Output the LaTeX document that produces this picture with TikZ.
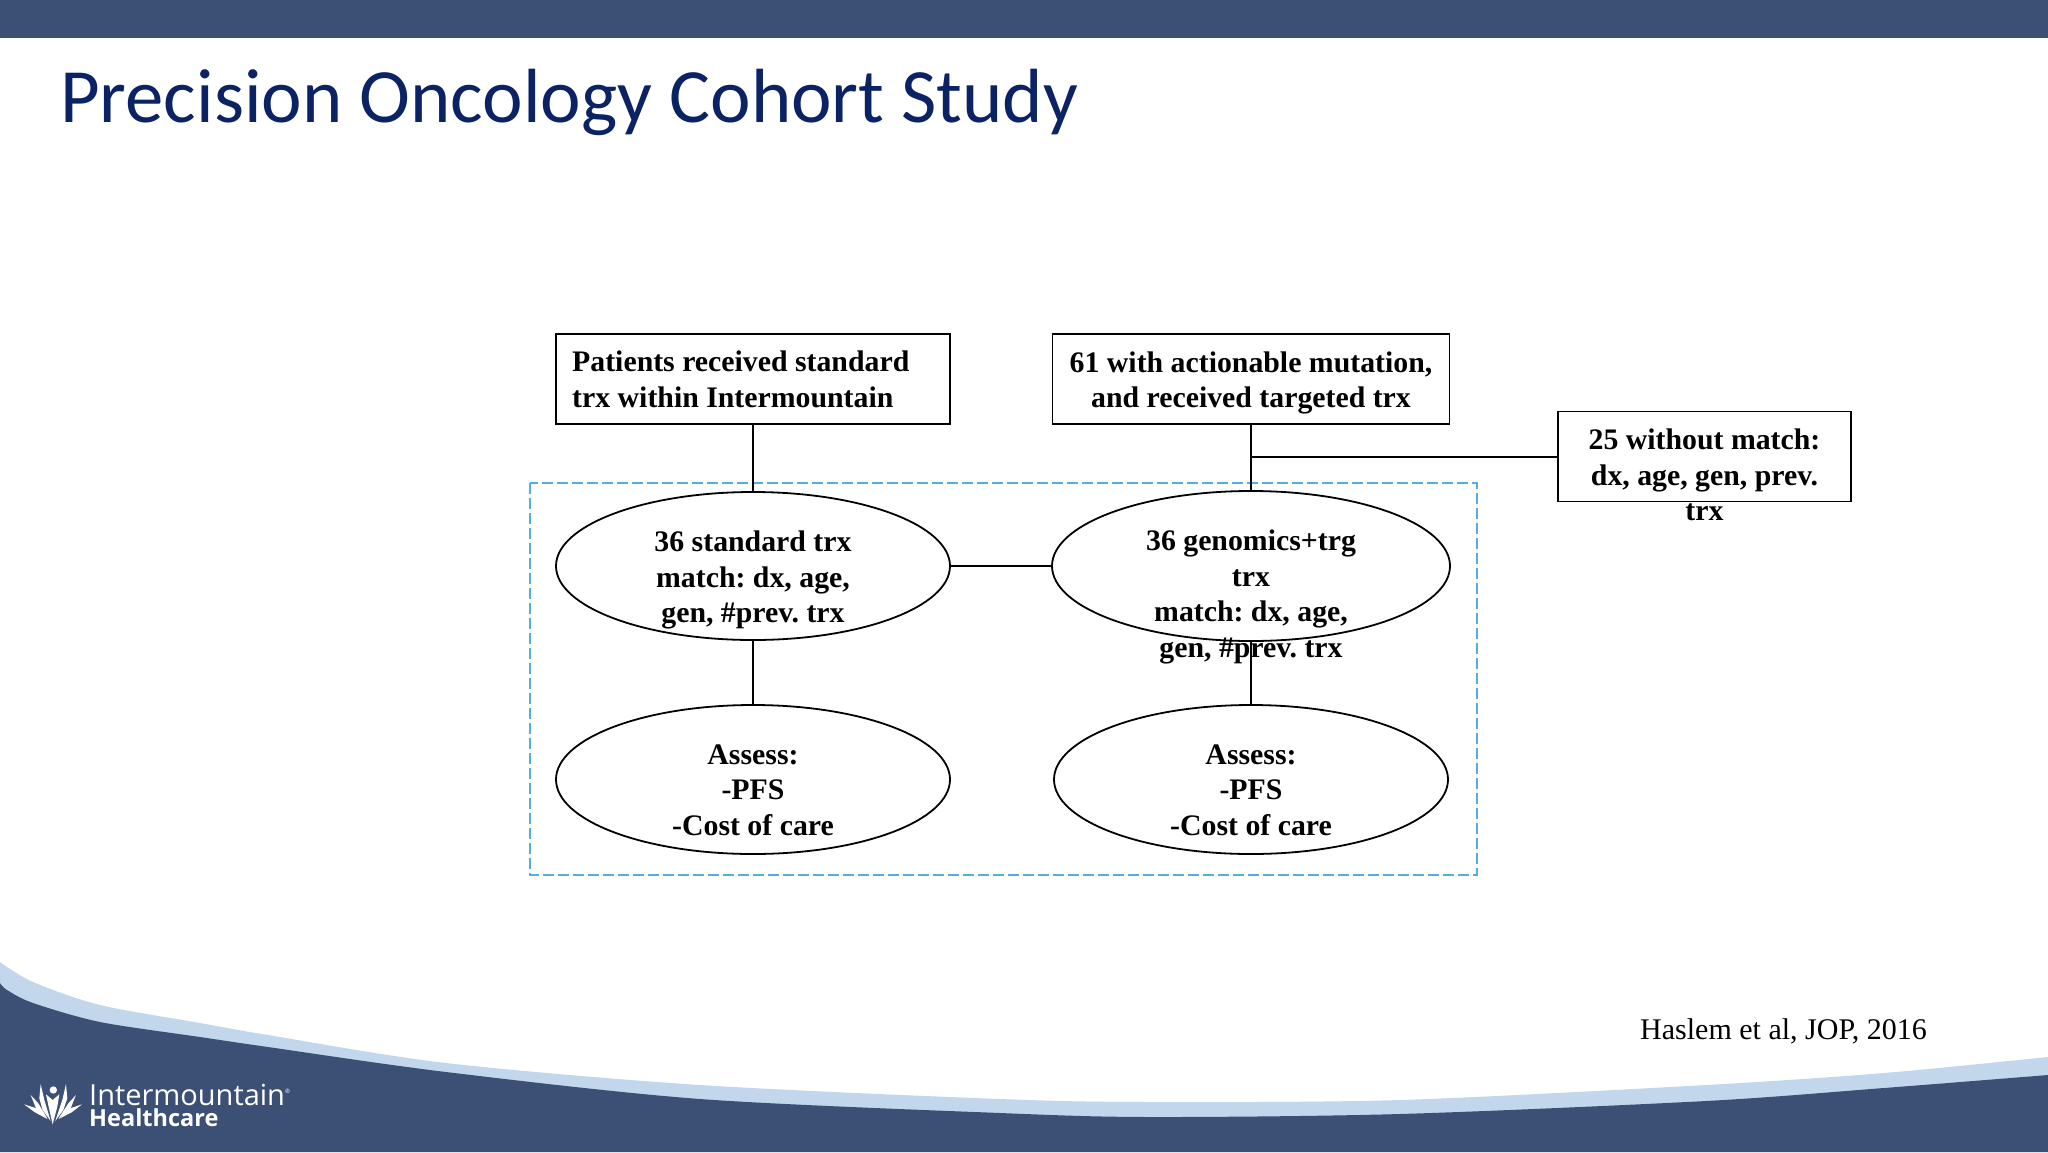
\documentclass[tikz,border=0pt]{standalone}
\usepackage{fontspec}
\setmainfont{Liberation Serif}
\newfontfamily\titlefont{Carlito}
\newfontfamily\logofont{Open Sans}
\usetikzlibrary{shapes.geometric}
\definecolor{band}{HTML}{3C4F74}
\definecolor{lightband}{HTML}{C2D6EC}
\definecolor{titleblue}{HTML}{0B2265}
\definecolor{dashblue}{HTML}{55ADE6}
\tikzset{
  x=1pt,y=-1pt,
  lbl/.style={font=\fontsize{29.8}{35.7}\selectfont\bfseries\frenchspacing,align=center,text=black,inner sep=0pt},
  boxn/.style={draw=black,line width=1.8pt,fill=white,minimum height=90pt,inner sep=0pt},
  elln/.style={draw=black,line width=1.8pt,ellipse,inner sep=0pt},
  conn/.style={draw=black,line width=2pt},
}
\begin{document}
\begin{tikzpicture}
\useasboundingbox (0,0) rectangle (2048,1152);
\fill[white] (0,0) rectangle (2048,1152);
\fill[band] (0,0) rectangle (2048,38);
\node[anchor=base west,inner sep=0pt,text=titleblue,font=\titlefont\fontsize{76.8}{80}\selectfont] (title) at (60,122) {Precision Oncology Cohort Study};
% footer
\fill[lightband] plot[smooth,tension=0.5] coordinates {(0,962) (33,982) (100,1005) (200,1023) (268,1035) (446,1063) (700,1085) (1000,1099) (1150,1102) (1400,1100) (1706,1085) (1884,1073) (2048,1057)} -- (2048,1152) -- (0,1152) -- cycle;
\fill[band] plot[smooth,tension=0.5] coordinates {(0,983) (7,990) (33,1003) (100,1022) (200,1037) (268,1047) (446,1072) (700,1099) (1000,1113) (1150,1117) (1400,1114) (1706,1101) (1884,1088) (2048,1075)} -- (2048,1152) -- (0,1152) -- cycle;
% diagram
\draw[dashblue,line width=1.8pt,dash pattern=on 11pt off 4pt] (530,483) rectangle (1477,875);
\node[boxn,minimum width=394pt] (b1) at (753,379) {};
\node[boxn,minimum width=397pt] (b2) at (1251,379) {};
\node[boxn,minimum width=293pt] (b3) at (1704.5,456.5) {};
\node[elln,minimum width=394pt,minimum height=148pt] (e1) at (753,566) {};
\node[elln,minimum width=398pt,minimum height=150pt] (e2) at (1251,566) {};
\node[elln,minimum width=394pt,minimum height=149pt] (e3) at (753,779.5) {};
\node[elln,minimum width=394pt,minimum height=149pt] (e4) at (1251,779.5) {};
\coordinate (j) at (1251,456.5);
\draw[conn] (b1) -- (e1);
\draw[conn] (b2) -- (e2);
\draw[conn] (j) -- (b3.west);
\draw[conn] (e1) -- (e2);
\draw[conn] (e1) -- (e3);
\draw[conn] (e2) -- (e4);
\node[lbl,align=left,anchor=west] (t1) at (572,379.5) {Patients received standard\\trx within Intermountain};
\node[lbl] (t2) at (1251,383) {61 with actionable mutation,\\and received targeted trx};
\node[lbl] (t3) at (1704.5,475) {25 without match:\\dx, age, gen, prev.\\trx};
\node[lbl] (t4) at (753,580) {36 standard trx\\match: dx, age,\\gen, \#prev. trx};
\node[lbl] (t5) at (1251,597) {36 genomics+trg\\trx\\match: dx, age,\\gen, \#prev. trx};
\node[lbl] (t6) at (753,790) {Assess:\\-PFS\\-Cost of care};
\node[lbl] (t7) at (1251,790) {Assess:\\-PFS\\-Cost of care};
\node[anchor=base west,inner sep=0pt,font=\fontsize{30}{35}\selectfont] (cite) at (1640,1039) {Haslem et al, JOP, 2016};
% logo
\node[anchor=base west,inner sep=0pt,text=white,font=\logofont\fontsize{29}{30}\selectfont] (logo1) at (89,1105) {Intermountain\raisebox{12pt}{\fontsize{6}{6}\selectfont ®}};
\node[anchor=base west,inner sep=0pt,text=white,font=\logofont\fontsize{23.5}{24}\selectfont\bfseries] (logo2) at (89,1126) {Healthcare};
\begin{scope}[shift={(10,1065)},x=0.3333pt,y=-0.3333pt]
\fill[white] (130,75) circle (11);
\fill[white] (108,88) -- (128,105) -- (148,88) -- (142,125) -- (128,178) -- (116,125) -- cycle;
\fill[white] (92,57) -- (103,105) -- (122,168) -- (98,135) -- (88,100) -- cycle;
\fill[white] (168,57) -- (157,105) -- (136,168) -- (160,135) -- (172,100) -- cycle;
\fill[white] (62,90) -- (85,115) -- (112,160) -- (80,135) -- cycle;
\fill[white] (198,90) -- (175,115) -- (146,160) -- (180,135) -- cycle;
\fill[white] (42,118) -- (80,130) -- (112,162) -- (75,142) -- cycle;
\fill[white] (216,118) -- (180,130) -- (146,162) -- (185,142) -- cycle;
\end{scope}
\end{tikzpicture}
\end{document}
